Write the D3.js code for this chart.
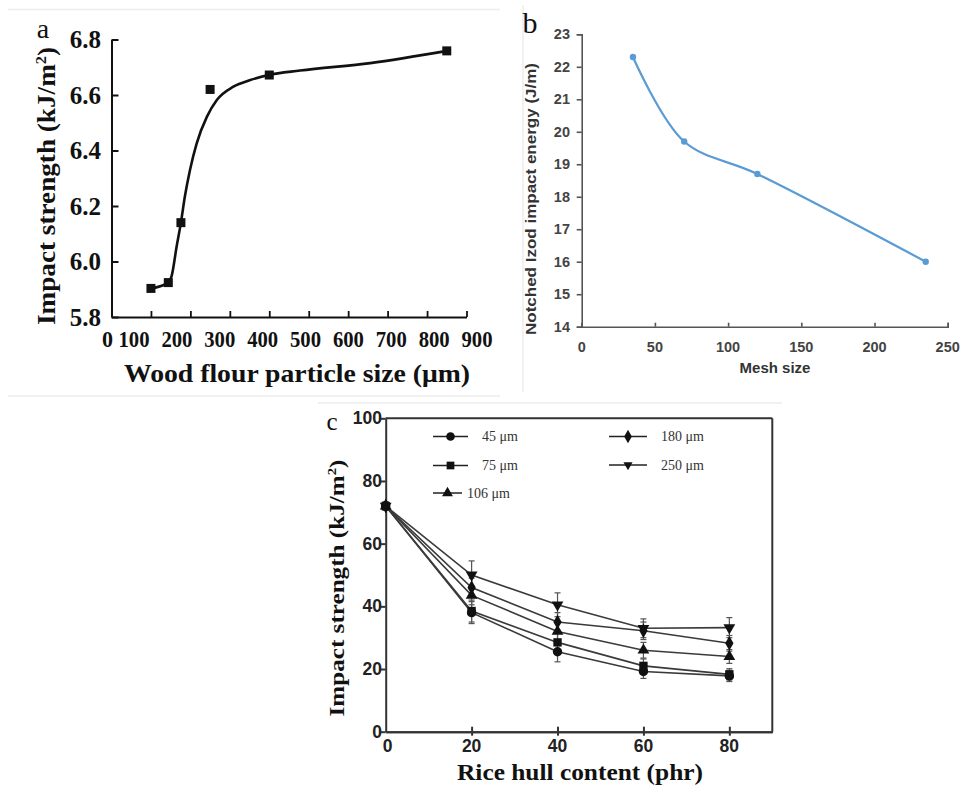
<!DOCTYPE html>
<html><head><meta charset="utf-8">
<script src="https://cdn.jsdelivr.net/npm/d3@7"></script>
<style>body{margin:0;background:#fff} svg{display:block}</style>
</head><body><svg id="chart" width="962" height="787"></svg>
<script>
// ---------- Panel a data ----------
const aSize = [100, 144, 176, 250, 400, 850];
const aStrength = [5.903, 5.924, 6.14, 6.62, 6.672, 6.759];
const aFitSize = [100, 144, 153, 165, 176, 186, 199, 216, 242, 267, 309, 352, 398, 478, 656, 851];
const aFitStrength = [5.903, 5.924, 5.951, 6.053, 6.14, 6.234, 6.33, 6.426, 6.522, 6.582, 6.63, 6.654, 6.672, 6.688, 6.715, 6.759];
const aXTicks = [0, 100, 200, 300, 400, 500, 600, 700, 800, 900];
const aYTicks = [5.8, 6.0, 6.2, 6.4, 6.6, 6.8];

// ---------- Panel b data ----------
const bMesh = [35, 70, 120, 235];
const bEnergy = [22.3, 19.7, 18.7, 16.0];
const bXTicks = [0, 50, 100, 150, 200, 250];
const bYTicks = [14, 15, 16, 17, 18, 19, 20, 21, 22, 23];

// ---------- Panel c data ----------
const cContent = [0, 20, 40, 60, 80];
const cNames = ["45 μm", "75 μm", "106 μm", "180 μm", "250 μm"];
const c45 = [72, 38, 25.5, 19.2, 17.8];
const c75 = [72, 38.5, 28.5, 21, 18.3];
const c106 = [72, 43.5, 32, 26, 24];
const c180 = [72, 46, 35, 32.2, 28.2];
const c250 = [72, 50, 40.5, 33, 33.2];
const e45 = [1.2, 3.5, 3.2, 2.2, 1.8];
const e75 = [1.2, 3.5, 3, 2.2, 1.8];
const e106 = [1.2, 3, 3, 2.5, 2.2];
const e180 = [1.2, 3, 3, 2.8, 2.5];
const e250 = [1.2, 4.5, 3.8, 3, 3.2];
const cXTicks = [0, 20, 40, 60, 80];
const cYTicks = [0, 20, 40, 60, 80, 100];

const svg = d3.select("#chart");
const SERIF = "'Liberation Serif','Times New Roman',serif";
const SANS = "'Liberation Sans',Arial,sans-serif";

// faint image frames
const frame = svg.append("g").attr("stroke", "#ececec").attr("stroke-width", 1.5);
frame.append("line").attr("x1", 8).attr("x2", 500).attr("y1", 9.5).attr("y2", 9.5);
frame.append("line").attr("x1", 8).attr("x2", 500).attr("y1", 396).attr("y2", 396);
frame.append("line").attr("x1", 523).attr("x2", 523).attr("y1", 5).attr("y2", 392);
frame.append("line").attr("x1", 318).attr("x2", 782).attr("y1", 403).attr("y2", 403);

// ================= Panel a =================
{
  const x = d3.scaleLinear().domain([0, 900]).range([111.5, 466.5]);
  const y = d3.scaleLinear().domain([5.8, 6.8]).range([317, 39.5]);
  const labelX = d3.scaleLinear().domain([100, 900]).range([134, 477]);
  const g = svg.append("g");

  const yAx = g.append("g").attr("transform", `translate(${x(0)},0)`)
    .call(d3.axisLeft(y).tickValues(aYTicks).tickSizeInner(-7).tickSizeOuter(0).tickFormat(""));
  yAx.selectAll("path,line").attr("stroke", "#111").attr("stroke-width", 2);
  const xAx = g.append("g").attr("transform", `translate(0,${y(5.8)})`)
    .call(d3.axisBottom(x).tickValues(aXTicks).tickSizeInner(-6).tickSizeOuter(0).tickFormat(""));
  xAx.selectAll("path,line").attr("stroke", "#111").attr("stroke-width", 1.8);

  g.selectAll(".ayl").data(aYTicks).join("text")
    .attr("x", 101).attr("y", d => y(d)).attr("dy", "0.35em")
    .attr("text-anchor", "end").attr("font-family", SERIF).attr("font-weight", "bold")
    .attr("font-size", 25).attr("fill", "#111").text(d => d.toFixed(1));

  g.selectAll(".axl").data(aXTicks).join("text")
    .attr("x", d => d === 0 ? 107.5 : labelX(d)).attr("y", 347)
    .attr("text-anchor", "middle").attr("font-family", SERIF).attr("font-weight", "bold")
    .attr("font-size", 24).attr("fill", "#111")
    .attr("textLength", d => d === 0 ? 11 : 31).attr("lengthAdjust", "spacingAndGlyphs")
    .text(d => d);

  const fit = aFitSize.map((s, i) => [s, aFitStrength[i]]);
  g.append("path").datum(fit)
    .attr("d", d3.line().x(d => x(d[0])).y(d => y(d[1])).curve(d3.curveMonotoneX))
    .attr("fill", "none").attr("stroke", "#111").attr("stroke-width", 2.6);

  g.selectAll(".apt").data(aSize.map((s, i) => [s, aStrength[i]])).join("rect")
    .attr("x", d => x(d[0]) - 4.5).attr("y", d => y(d[1]) - 4.5)
    .attr("width", 9).attr("height", 9).attr("fill", "#111");

  g.append("text").attr("x", 46).attr("y", 186).attr("transform", "rotate(-90,46,186)")
    .attr("dy", "0.35em").attr("text-anchor", "middle").attr("font-family", SERIF)
    .attr("font-weight", "bold").attr("font-size", 25).attr("fill", "#111")
    .attr("textLength", 278).attr("lengthAdjust", "spacingAndGlyphs")
    .html("Impact strength (kJ/m<tspan font-size='15' dy='-9'>2</tspan><tspan dy='9'>)</tspan>");

  g.append("text").attr("x", 297).attr("y", 382)
    .attr("text-anchor", "middle").attr("font-family", SERIF)
    .attr("font-weight", "bold").attr("font-size", 25).attr("fill", "#111")
    .attr("textLength", 346).attr("lengthAdjust", "spacingAndGlyphs")
    .text("Wood flour particle size (μm)");

  g.append("text").attr("x", 43).attr("y", 38).attr("text-anchor", "middle")
    .attr("font-family", SERIF).attr("font-size", 28).attr("fill", "#111").text("a");
}

// ================= Panel b =================
{
  const x = d3.scaleLinear().domain([0, 250]).range([581.7, 947.7]);
  const y = d3.scaleLinear().domain([14, 23]).range([326.7, 34.3]);
  const g = svg.append("g");
  const blue = "#5b9bd5";

  const yAx = g.append("g").attr("transform", `translate(${x(0)},0)`)
    .call(d3.axisLeft(y).tickValues(bYTicks).tickSizeInner(5).tickSizeOuter(5).tickFormat(""));
  yAx.selectAll("path,line").attr("stroke", "#555").attr("stroke-width", 1.6);
  const xAx = g.append("g").attr("transform", `translate(0,${y(14)})`)
    .call(d3.axisBottom(x).tickValues(bXTicks).tickSizeInner(-4).tickSizeOuter(-4).tickFormat(""));
  xAx.selectAll("path,line").attr("stroke", "#555").attr("stroke-width", 1.6);

  g.selectAll(".byl").data(bYTicks).join("text")
    .attr("x", 570).attr("y", d => y(d)).attr("dy", "0.35em").attr("text-anchor", "end")
    .attr("font-family", SANS).attr("font-weight", "bold").attr("font-size", 14.5)
    .attr("fill", "#444").text(d => d);
  g.selectAll(".bxl").data(bXTicks).join("text")
    .attr("x", d => x(d)).attr("y", 347).attr("dy", "0.35em").attr("text-anchor", "middle")
    .attr("font-family", SANS).attr("font-weight", "bold").attr("font-size", 14.5)
    .attr("fill", "#444").text(d => d);

  const pts = bMesh.map((m, i) => [m, bEnergy[i]]);
  g.append("path").datum(pts)
    .attr("d", d3.line().x(d => x(d[0])).y(d => y(d[1])).curve(d3.curveCatmullRom.alpha(0.5)))
    .attr("fill", "none").attr("stroke", blue).attr("stroke-width", 2.2);
  g.selectAll(".bpt").data(pts).join("circle")
    .attr("cx", d => x(d[0])).attr("cy", d => y(d[1])).attr("r", 3.2).attr("fill", blue);

  g.append("text").attr("x", 531.5).attr("y", 199).attr("transform", "rotate(-90,531.5,199)")
    .attr("dy", "0.35em").attr("text-anchor", "middle").attr("font-family", SANS)
    .attr("font-weight", "bold").attr("font-size", 14).attr("fill", "#333")
    .attr("textLength", 272).attr("lengthAdjust", "spacingAndGlyphs")
    .text("Notched Izod impact energy (J/m)");
  g.append("text").attr("x", 775).attr("y", 368).attr("dy", "0.35em").attr("text-anchor", "middle")
    .attr("font-family", SANS).attr("font-weight", "bold").attr("font-size", 15)
    .attr("fill", "#333").text("Mesh size");
  g.append("text").attr("x", 530).attr("y", 33).attr("text-anchor", "middle")
    .attr("font-family", SERIF).attr("font-size", 30).attr("fill", "#111").text("b");
}

// ================= Panel c =================
{
  const x = d3.scaleLinear().domain([0, 90]).range([385.7, 772.3]);
  const y = d3.scaleLinear().domain([0, 100]).range([731.7, 418.3]);
  const g = svg.append("g");
  const series = [c45, c75, c106, c180, c250];
  const errs = [e45, e75, e106, e180, e250];
  const symbols = [d3.symbolCircle, d3.symbolSquare, d3.symbolTriangle, d3.symbolDiamond, d3.symbolTriangle];
  const symSize = [70, 70, 60, 60, 60];
  const symRot = [0, 0, 0, 0, 180];
  const sym = (i, k = 1) => d3.symbol().type(symbols[i]).size(symSize[i] * k)();

  // frame
  g.append("line").attr("x1", x(0)).attr("x2", x(90)).attr("y1", y(100)).attr("y2", y(100))
    .attr("stroke", "#333").attr("stroke-width", 2);
  g.append("line").attr("x1", x(90)).attr("x2", x(90)).attr("y1", y(100)).attr("y2", y(0))
    .attr("stroke", "#333").attr("stroke-width", 2);

  const yAx = g.append("g").attr("transform", `translate(${x(0)},0)`)
    .call(d3.axisLeft(y).tickValues(cYTicks).tickSizeInner(5).tickSizeOuter(0).tickFormat(""));
  yAx.selectAll("path,line").attr("stroke", "#333").attr("stroke-width", 2);
  const xAx = g.append("g").attr("transform", `translate(0,${y(0)})`)
    .call(d3.axisBottom(x).tickValues(cXTicks.slice(1)).tickSizeInner(4).tickSizeOuter(0).tickFormat(""));
  xAx.selectAll("path,line").attr("stroke", "#333").attr("stroke-width", 2);
  const xAx2 = g.append("g").attr("transform", `translate(0,${y(0)})`)
    .call(d3.axisBottom(x).tickValues(cXTicks.slice(1)).tickSizeInner(-5).tickSizeOuter(0).tickFormat(""));
  xAx2.selectAll("path,line").attr("stroke", "#333").attr("stroke-width", 2);

  g.selectAll(".cyl").data(cYTicks).join("text")
    .attr("x", 382).attr("y", d => y(d)).attr("dy", "0.35em").attr("text-anchor", "end")
    .attr("font-family", SANS).attr("font-weight", "bold").attr("font-size", 17.5)
    .attr("fill", "#222").text(d => d);
  g.selectAll(".cxl").data(cXTicks).join("text")
    .attr("x", d => d === 0 ? x(d) + 2 : x(d)).attr("y", 746).attr("dy", "0.35em").attr("text-anchor", "middle")
    .attr("font-family", SANS).attr("font-weight", "bold").attr("font-size", 17.5)
    .attr("fill", "#222").text(d => d);

  // error bars
  series.forEach((s, i) => {
    const eb = g.append("g").attr("stroke", "#555").attr("stroke-width", 1.2);
    cContent.forEach((c, j) => {
      const lo = y(s[j] - errs[i][j]), hi = y(s[j] + errs[i][j]), cx = x(c);
      eb.append("line").attr("x1", cx).attr("x2", cx).attr("y1", lo).attr("y2", hi);
      eb.append("line").attr("x1", cx - 3).attr("x2", cx + 3).attr("y1", lo).attr("y2", lo);
      eb.append("line").attr("x1", cx - 3).attr("x2", cx + 3).attr("y1", hi).attr("y2", hi);
    });
  });
  // lines
  const line = d3.line().x(d => x(d[0])).y(d => y(d[1]));
  series.forEach((s, i) => {
    g.append("path").datum(cContent.map((c, j) => [c, s[j]])).attr("d", line)
      .attr("fill", "none").attr("stroke", "#3a3a3a").attr("stroke-width", 1.6);
  });
  series.forEach((s, i) => {
    g.selectAll(null).data(cContent.map((c, j) => [c, s[j]])).join("path")
      .attr("d", sym(i))
      .attr("transform", d => `translate(${x(d[0])},${y(d[1])}) rotate(${symRot[i]})`)
      .attr("fill", "#111");
  });

  // legend
  const legPos = [[433, 436.5], [433, 465.5], [433, 493], [609, 436.5], [609, 465]];
  const legLen = [35, 35, 29, 38, 38];
  cNames.forEach((n, i) => {
    const [lx, ly] = legPos[i];
    g.append("line").attr("x1", lx).attr("x2", lx + legLen[i]).attr("y1", ly).attr("y2", ly)
      .attr("stroke", "#222").attr("stroke-width", 1.5);
    g.append("path").attr("d", sym(i, i === 4 ? 0.6 : 0.85))
      .attr("transform", `translate(${lx + legLen[i] / 2},${ly}) rotate(${symRot[i]})`).attr("fill", "#111");
    g.append("text").attr("x", lx + legLen[i] + (i === 2 ? 5 : 14)).attr("y", ly).attr("dy", "0.35em")
      .attr("font-family", SERIF).attr("font-size", 14).attr("fill", "#333").text(n);
  });

  g.append("text").attr("x", 336).attr("y", 588).attr("transform", "rotate(-90,336,588)")
    .attr("dy", "0.35em").attr("text-anchor", "middle").attr("font-family", SERIF)
    .attr("font-weight", "bold").attr("font-size", 22).attr("fill", "#111")
    .attr("textLength", 257).attr("lengthAdjust", "spacingAndGlyphs")
    .html("Impact strength (kJ/m<tspan font-size='13' dy='-8'>2</tspan><tspan dy='8'>)</tspan>");
  g.append("text").attr("x", 580).attr("y", 772).attr("dy", "0.35em").attr("text-anchor", "middle")
    .attr("font-family", SERIF).attr("font-weight", "bold").attr("font-size", 23)
    .attr("fill", "#111").attr("textLength", 246).attr("lengthAdjust", "spacingAndGlyphs")
    .text("Rice hull content (phr)");
  g.append("text").attr("x", 332).attr("y", 430).attr("text-anchor", "middle")
    .attr("font-family", SERIF).attr("font-size", 25).attr("fill", "#111").text("c");
}
</script>
</body></html>
